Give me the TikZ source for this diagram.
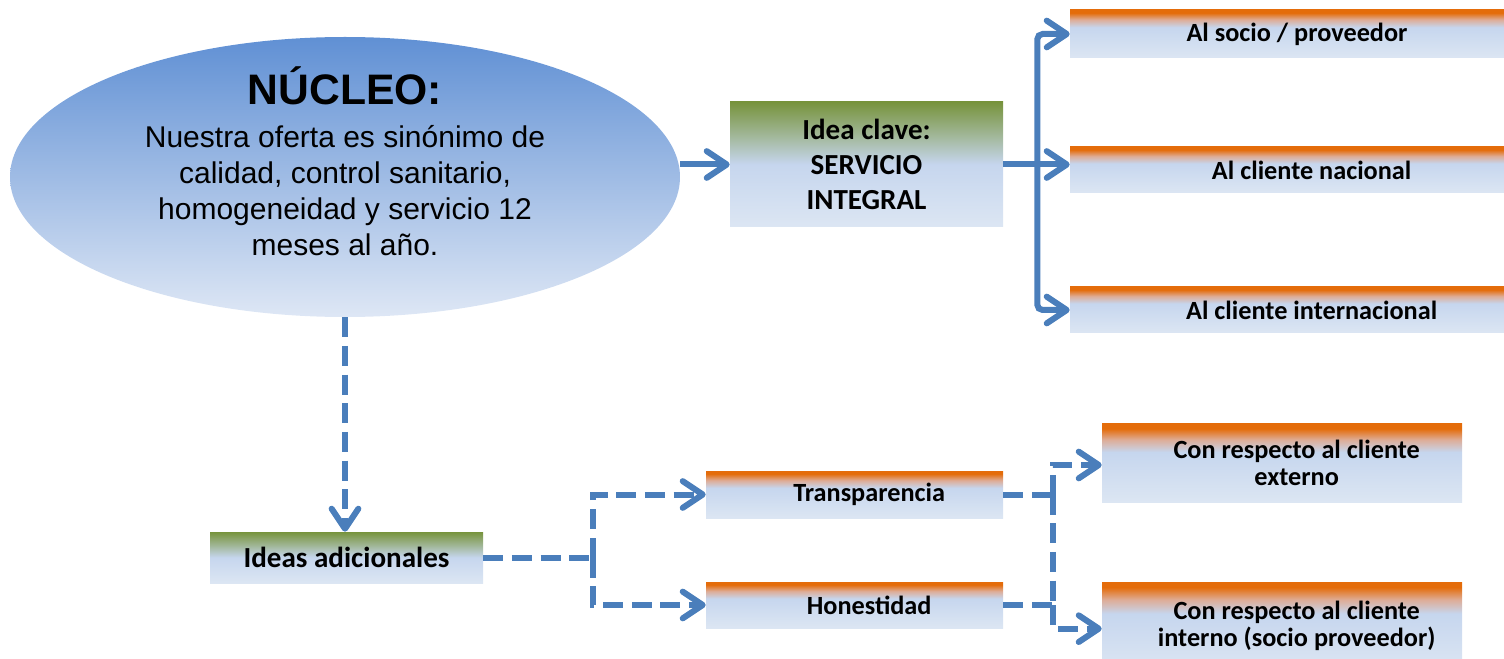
\documentclass[tikz,border=0pt]{standalone}
\usepackage{fontspec}
\setmainfont{Carlito}
\newfontfamily\arialf{Liberation Sans}
\usetikzlibrary{arrows.meta,shapes.geometric}
\definecolor{lnblue}{RGB}{74,126,187}
\definecolor{orTop}{RGB}{228,108,10}
\definecolor{orMix}{RGB}{222,172,150}
\definecolor{grTop}{RGB}{119,147,60}
\definecolor{grMix}{RGB}{160,182,150}
\definecolor{lbMid}{RGB}{198,214,238}
\definecolor{lbBot}{RGB}{220,230,243}
\definecolor{ellTop}{RGB}{96,144,212}
\definecolor{ellBot}{RGB}{222,231,245}
\pgfdeclareverticalshading{oboxshade}{100bp}{color(0bp)=(lbBot); color(25bp)=(lbBot); color(57bp)=(lbMid); color(65bp)=(orMix); color(72bp)=(orTop); color(75bp)=(orTop); color(100bp)=(orTop)}
\pgfdeclareverticalshading{gboxshade}{100bp}{color(0bp)=(lbBot); color(25bp)=(lbBot); color(50bp)=(lbMid); color(62bp)=(grMix); color(75bp)=(grTop); color(100bp)=(grTop)}
\begin{document}
\begin{tikzpicture}[x=0.75pt,y=-0.75pt,
  conn/.style={draw=lnblue, line width=4.5pt},
  dconn/.style={draw=lnblue, line width=4.5pt, dash pattern=on 15pt off 6.5pt},
  tipped/.style={-{Straight Barb[length=15pt,width=20pt,round]}},
  gbox/.style={rectangle, shade, shading=gboxshade, inner sep=0pt, text=black},
  obox/.style={rectangle, shade, shading=oboxshade, inner sep=0pt, text=black},
  bigtxt/.style={font=\bfseries\fontsize{21.8pt}{26.25pt}\selectfont},
  smalltxt/.style={font=\bfseries\fontsize{19.7pt}{20pt}\selectfont},
]
\useasboundingbox (0,0) rectangle (1504,659);
\clip (0,0) rectangle (1504,659);
% ellipse
\node[ellipse, minimum width=670*0.75pt, minimum height=280*0.75pt, inner sep=0pt,
      top color=ellTop, bottom color=ellBot] (nucleo) at (345,177) {};
\node[font=\arialf\bfseries\fontsize{32pt}{36pt}\selectfont, anchor=base, inner sep=0pt] (nuctitle) at (345,105) {NÚCLEO:};
\node[font=\arialf\fontsize{22.5pt}{27pt}\selectfont, align=center, anchor=base, inner sep=0pt] (nuctext) at (345,256)
  {Nuestra oferta es sinónimo de\\calidad, control sanitario,\\homogeneidad y servicio 12\\meses al año.};
% green boxes
\node[gbox, bigtxt, align=center, minimum width=273*0.75pt, minimum height=125*0.75pt] (idea) at (866.5,164.5)
  {Idea clave:\\SERVICIO\\INTEGRAL};
\node[gbox, bigtxt, minimum width=273*0.75pt, minimum height=51*0.75pt] (ideas) at (346.5,557.5) {Ideas adicionales};
% orange boxes, top right
\node[obox, smalltxt, minimum width=470*0.75pt, minimum height=48*0.75pt] (socio) at (1305,34) {\hspace*{-12pt}Al socio / proveedor};
\node[obox, smalltxt, minimum width=470*0.75pt, minimum height=46*0.75pt] (nac) at (1305,170) {\hspace*{10pt}Al cliente nacional};
\node[obox, smalltxt, minimum width=470*0.75pt, minimum height=46*0.75pt] (intl) at (1305,310) {\hspace*{10pt}Al cliente internacional};
% orange boxes, bottom
\node[obox, smalltxt, minimum width=297*0.75pt, minimum height=47*0.75pt] (transp) at (854.5,494.5) {\hspace*{22pt}Transparencia};
\node[obox, smalltxt, minimum width=297*0.75pt, minimum height=46*0.75pt] (hones) at (854.5,605) {\hspace*{22pt}Honestidad};
\node[obox, smalltxt, align=center, minimum width=360*0.75pt, minimum height=78*0.75pt] (cre) at (1282,463)
  {\hspace*{22pt}Con respecto al cliente\\\hspace*{22pt}externo};
\node[obox, smalltxt, align=center, minimum width=360*0.75pt, minimum height=88*0.75pt] (cri) at (1282,626)
  {\hspace*{22pt}Con respecto al cliente\\\hspace*{22pt}interno (socio proveedor)};
% solid connectors
\draw[conn, tipped] (nucleo.east |- idea.west) -- (idea.west);
\path (idea.east) -- ++(34,0) coordinate (j0);
\draw[conn, tipped] (idea.east) -- (nac.west |- idea.east);
\draw[conn, tipped, rounded corners=4pt] (j0) |- (socio.west);
\draw[conn, tipped, rounded corners=4pt] (j0) |- (intl.west);
% dashed connectors
\draw[dconn, tipped] (nucleo.south) -- (nucleo.south |- ideas.north);
\path (ideas.east) -- ++(110,0) coordinate (j1);
\draw[dconn] (ideas.east) -- (j1);
\draw[dconn, tipped] (j1) |- (transp.west);
\draw[dconn, tipped] (j1) |- (hones.west);
\path (transp.east) -- ++(50,0) coordinate (j2a);
\path (hones.east) -- ++(50,0) coordinate (j2b);
\draw[dconn] (transp.east) -- (j2a);
\draw[dconn] (hones.east) -- (j2b);
\draw[dconn] (j2a) -- (j2b);
\draw[dconn, tipped] (j2a) |- ([yshift=-1.5pt]cre.west);
\draw[dconn, tipped] (j2b) |- ([yshift=-2pt]cri.west);
\end{tikzpicture}
\end{document}
